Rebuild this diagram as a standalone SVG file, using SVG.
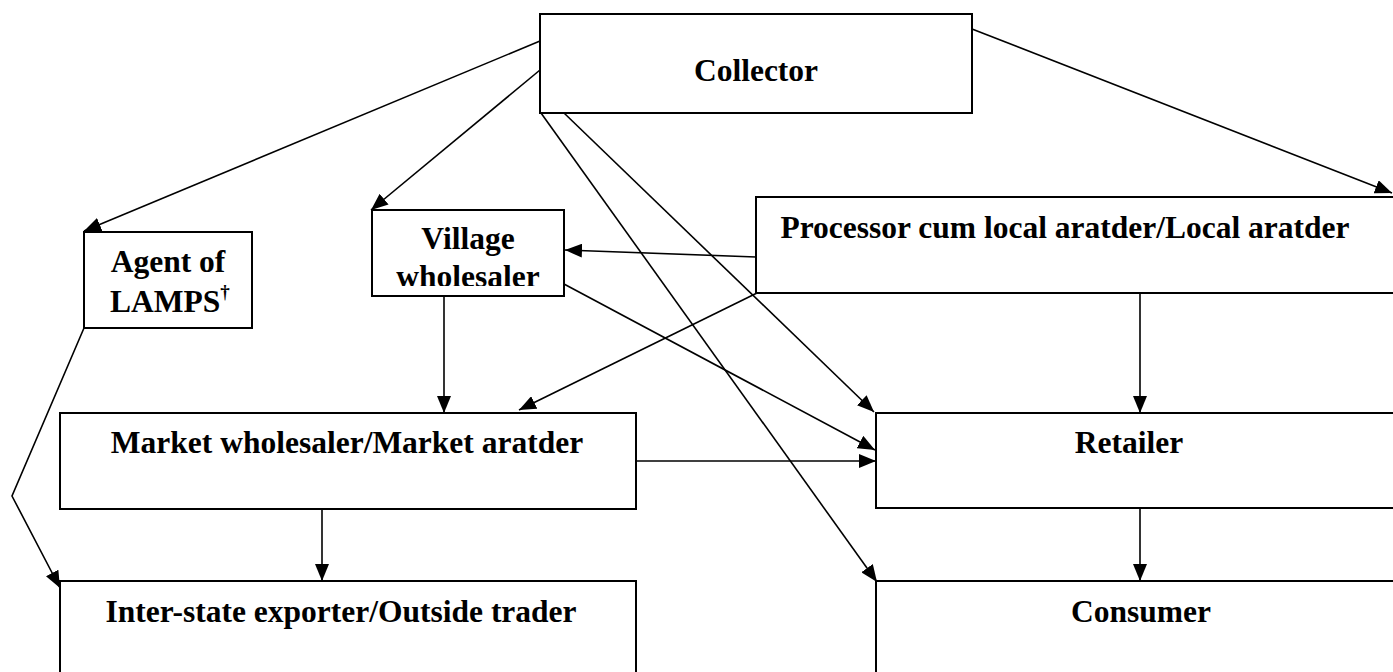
<svg xmlns="http://www.w3.org/2000/svg" width="1393" height="672" viewBox="0 0 1393 672">
  <style>
    .box { fill: #fff; stroke: #000; stroke-width: 2; }
    .lbl { font-family: "Liberation Serif", "Times New Roman", serif; font-weight: bold; font-size: 31.5px; fill: #000; }
    .edge { fill: none; stroke: #000; stroke-width: 1.6; marker-end: url(#arrow); }
  </style>
  <defs>
    <marker id="arrow" markerUnits="userSpaceOnUse" markerWidth="18" markerHeight="14" refX="17" refY="7" orient="auto">
      <path d="M0,0 L17,7 L0,14 z" fill="#000"/>
    </marker>
    <clipPath id="villageClip">
      <rect x="373" y="211" width="190" height="75"/>
    </clipPath>
  </defs>
  <rect width="1393" height="672" fill="#fff"/>

  <g id="collector">
    <rect class="box" x="540" y="14" width="432" height="99"/>
    <text class="lbl" x="756" y="81" text-anchor="middle">Collector</text>
  </g>

  <g id="agent-lamps">
    <rect class="box" x="84" y="232" width="168" height="96"/>
    <text class="lbl" x="168" y="272" text-anchor="middle">Agent of</text>
    <text class="lbl" x="110" y="312">LAMPS<tspan font-size="19" dy="-14">†</tspan></text>
  </g>

  <g id="village-wholesaler">
    <rect class="box" x="372" y="210" width="192" height="86"/>
    <g clip-path="url(#villageClip)">
      <text class="lbl" x="468" y="249" text-anchor="middle">Village</text>
      <text class="lbl" x="468" y="287" text-anchor="middle">wholesaler</text>
    </g>
  </g>

  <g id="processor">
    <rect class="box" x="756" y="197" width="660" height="96"/>
    <text class="lbl" x="1065" y="238" text-anchor="middle">Processor cum local aratder/Local aratder</text>
  </g>

  <g id="market-wholesaler">
    <rect class="box" x="60" y="413" width="576" height="96"/>
    <text class="lbl" x="347" y="453" text-anchor="middle">Market wholesaler/Market aratder</text>
  </g>

  <g id="retailer">
    <rect class="box" x="876" y="413" width="540" height="95"/>
    <text class="lbl" x="1129" y="453" text-anchor="middle">Retailer</text>
  </g>

  <g id="inter-state-exporter">
    <rect class="box" x="60" y="581" width="576" height="110"/>
    <text class="lbl" x="341" y="622" text-anchor="middle">Inter-state exporter/Outside trader</text>
  </g>

  <g id="consumer">
    <rect class="box" x="876" y="581" width="540" height="110"/>
    <text class="lbl" x="1141" y="622" text-anchor="middle">Consumer</text>
  </g>

  <g id="connectors">
    <line class="edge" x1="540" y1="41" x2="84" y2="231"/>
    <line class="edge" x1="540" y1="70" x2="371" y2="210"/>
    <line class="edge" x1="541" y1="113" x2="877" y2="582"/>
    <line class="edge" x1="564" y1="113" x2="874" y2="412"/>
    <line class="edge" x1="972" y1="29" x2="1392" y2="193"/>
    <line class="edge" x1="756" y1="257" x2="565" y2="250"/>
    <line class="edge" x1="757" y1="293" x2="519" y2="410"/>
    <line class="edge" x1="564" y1="284" x2="875" y2="450"/>
    <line class="edge" x1="444" y1="296" x2="444" y2="413"/>
    <line class="edge" x1="1140" y1="293" x2="1140" y2="413"/>
    <line class="edge" x1="636" y1="461" x2="876" y2="461"/>
    <line class="edge" x1="322" y1="509" x2="322" y2="581"/>
    <line class="edge" x1="1140" y1="508" x2="1140" y2="581"/>
    <polyline class="edge" points="84,328 12,496 60,588"/>
  </g>
</svg>
